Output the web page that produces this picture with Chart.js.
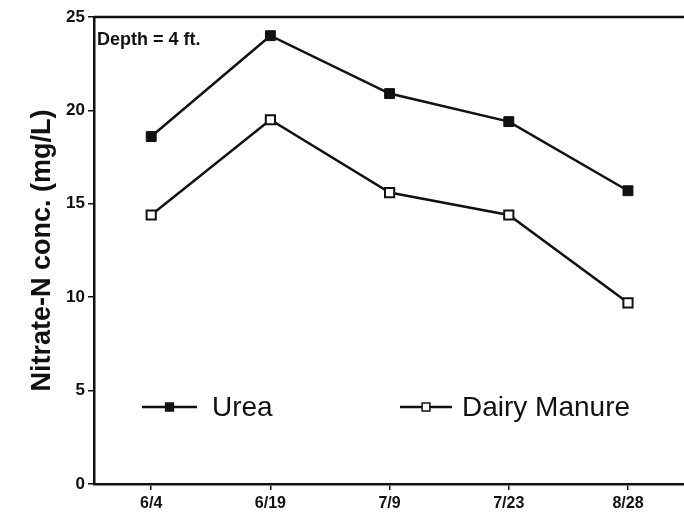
<!DOCTYPE html>
<html>
<head>
<meta charset="utf-8" />
<style>
  html, body { margin: 0; padding: 0; background: #fff; }
  #wrap { width: 684px; height: 518px; }
</style>
</head>
<body>
<div id="wrap"><canvas id="chart" width="684" height="518"></canvas></div>
<script src="https://cdn.jsdelivr.net/npm/chart.js"></script>
<script>
// sampling dates
const dates = ['6/4', '6/19', '7/9', '7/23', '8/28'];
// nitrate-N concentration, mg/L
const urea = [18.6, 24.0, 20.9, 19.4, 15.7];
const dairyManure = [14.4, 19.5, 15.6, 14.4, 9.7];
const yTicks = [0, 5, 10, 15, 20, 25];

const FONT = '"Liberation Sans", Arial, Helvetica, sans-serif';

const toXY = arr => arr.map((v, i) => ({ x: i, y: v }));

// top frame line, depth note and legend inside the plot
const extras = {
  id: 'extras',
  afterDraw(chart) {
    const { ctx, chartArea: a } = chart;
    ctx.save();
    ctx.strokeStyle = '#111';
    ctx.lineWidth = 2.5;
    ctx.beginPath();
    ctx.moveTo(a.left, a.top);
    ctx.lineTo(chart.width, a.top);
    ctx.stroke();

    ctx.fillStyle = '#111';
    ctx.font = 'bold 18px ' + FONT;
    ctx.textBaseline = 'middle';
    ctx.textAlign = 'left';
    ctx.fillText('Depth = 4 ft.', a.left + 3, 40);

    const items = [
      { ds: chart.data.datasets[0], x0: 142, x1: 197, tx: 212 },
      { ds: chart.data.datasets[1], x0: 400, x1: 452, tx: 462 }
    ];
    const ly = 407;
    ctx.font = '28px ' + FONT;
    items.forEach(it => {
      ctx.strokeStyle = '#111';
      ctx.lineWidth = 2.5;
      ctx.beginPath();
      ctx.moveTo(it.x0, ly);
      ctx.lineTo(it.x1, ly);
      ctx.stroke();
      ctx.fillStyle = it.ds.pointBackgroundColor;
      ctx.strokeStyle = '#111';
      ctx.lineWidth = 1.5;
      Chart.helpers.drawPoint(ctx, { pointStyle: 'rect', radius: 5.5, rotation: 0, borderWidth: 1.5 }, (it.x0 + it.x1) / 2, ly);
      ctx.fillStyle = '#111';
      ctx.fillText(it.ds.label, it.tx, ly + 1);
    });
    ctx.restore();
  }
};

new Chart(document.getElementById('chart'), {
  type: 'line',
  data: {
    datasets: [
      {
        label: 'Urea',
        data: toXY(urea),
        borderColor: '#111',
        borderWidth: 2.5,
        pointStyle: 'rect',
        pointRadius: 7,
        pointBackgroundColor: '#111',
        pointBorderColor: '#111',
        pointBorderWidth: 1,
        tension: 0
      },
      {
        label: 'Dairy Manure',
        data: toXY(dairyManure),
        borderColor: '#111',
        borderWidth: 2.5,
        pointStyle: 'rect',
        pointRadius: 6.5,
        pointBackgroundColor: '#fff',
        pointBorderColor: '#111',
        pointBorderWidth: 2,
        tension: 0
      }
    ]
  },
  options: {
    responsive: false,
    animation: false,
    layout: { autoPadding: false, padding: { top: 17, left: 0, right: 0, bottom: 0 } },
    plugins: { legend: { display: false }, tooltip: { enabled: false } },
    scales: {
      x: {
        type: 'linear',
        min: -0.48,
        max: 4.47,
        afterBuildTicks(scale) {
          scale.ticks = dates.map((d, i) => ({ value: i }));
        },
        afterFit(scale) {
          scale.height = 34;
          scale.paddingLeft = 0;
          scale.paddingRight = 0;
        },
        border: { color: '#111', width: 2.5 },
        grid: { drawOnChartArea: false, tickLength: 6, color: '#111', lineWidth: 1.5 },
        ticks: {
          color: '#111',
          padding: 4,
          font: { family: FONT, size: 16, weight: 'bold' },
          callback: v => dates[v]
        }
      },
      y: {
        min: 0,
        max: 25,
        afterBuildTicks(scale) {
          scale.ticks = yTicks.map(v => ({ value: v }));
        },
        afterFit(scale) { scale.width = 94; },
        border: { color: '#111', width: 2.5 },
        grid: { drawOnChartArea: false, tickLength: 6, color: '#111', lineWidth: 1.5 },
        ticks: {
          color: '#111',
          padding: 3,
          font: { family: FONT, size: 17, weight: 'bold' }
        },
        title: {
          display: true,
          text: 'Nitrate-N conc. (mg/L)',
          color: '#111',
          font: { family: FONT, size: 27, weight: 'bold' },
          padding: { top: 26, bottom: 0 }
        }
      }
    }
  },
  plugins: [extras]
});
</script>
</body>
</html>
